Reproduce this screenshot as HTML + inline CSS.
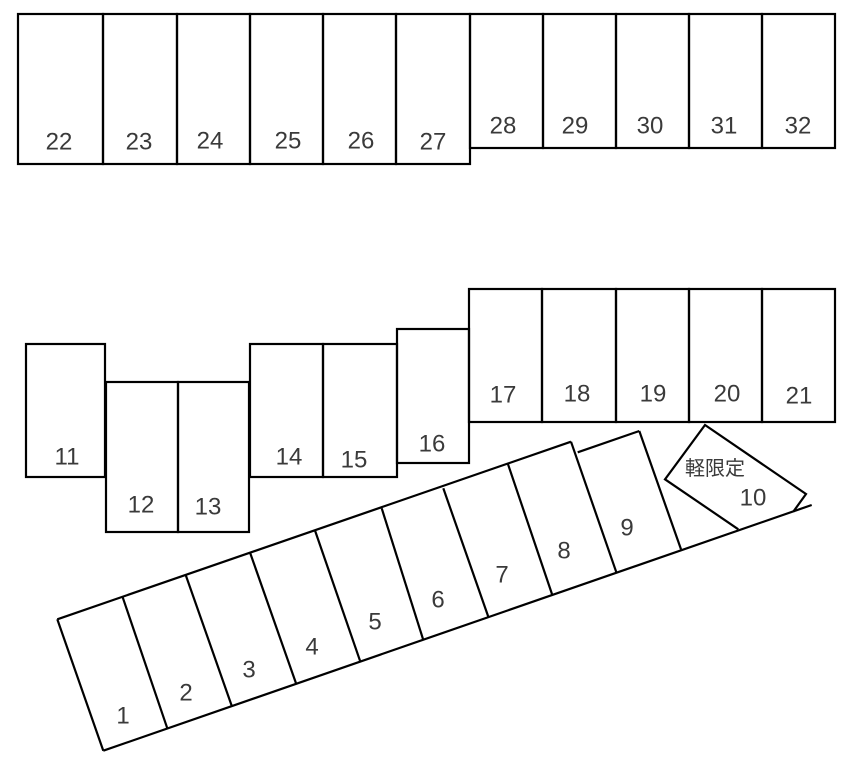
<!DOCTYPE html>
<html><head><meta charset="utf-8"><style>
html,body{margin:0;padding:0;background:#fff;}
svg{display:block}
text{font-family:"Liberation Sans","Noto Sans CJK JP",sans-serif;font-size:24px;fill:#3a3a3a;text-anchor:middle;dominant-baseline:central;}
</style></head><body>
<svg width="862" height="760" viewBox="0 0 862 760">
<g fill="none" stroke="#000" stroke-width="2.2">
<rect x="18" y="14" width="85" height="150"/>
<rect x="103" y="14" width="74" height="150"/>
<rect x="177" y="14" width="73" height="150"/>
<rect x="250" y="14" width="73" height="150"/>
<rect x="323" y="14" width="73" height="150"/>
<rect x="396" y="14" width="74" height="150"/>
<rect x="470" y="14" width="73" height="134"/>
<rect x="543" y="14" width="73" height="134"/>
<rect x="616" y="14" width="73" height="134"/>
<rect x="689" y="14" width="73" height="134"/>
<rect x="762" y="14" width="73" height="134"/>
<rect x="26" y="344" width="79" height="133"/>
<rect x="106" y="382" width="72" height="150"/>
<rect x="178" y="382" width="71" height="150"/>
<rect x="250" y="344" width="73" height="133"/>
<rect x="323" y="344" width="74" height="133"/>
<rect x="397" y="329" width="72" height="134"/>
<rect x="469" y="289" width="73" height="133"/>
<rect x="542" y="289" width="74" height="133"/>
<rect x="616" y="289" width="73" height="133"/>
<rect x="689" y="289" width="73" height="133"/>
<rect x="762" y="289" width="73" height="133"/>
<line x1="57.3" y1="619.3" x2="571" y2="441.7"/>
<line x1="577.7" y1="452.3" x2="639.3" y2="431"/>
<line x1="103.3" y1="750.7" x2="811.7" y2="505"/>
<line x1="57.3" y1="619.3" x2="103.3" y2="750.7"/>
<line x1="122.7" y1="597.3" x2="167.3" y2="728.3"/>
<line x1="185.7" y1="575" x2="231.7" y2="705.7"/>
<line x1="250" y1="552.5" x2="296" y2="683.3"/>
<line x1="315" y1="530.5" x2="360" y2="660.7"/>
<line x1="381.7" y1="508.3" x2="423.3" y2="640"/>
<line x1="443.3" y1="488.3" x2="488.3" y2="616.7"/>
<line x1="507.7" y1="463.3" x2="552.3" y2="595"/>
<line x1="571" y1="441.7" x2="616.7" y2="573.3"/>
<line x1="639.3" y1="431" x2="681" y2="549.3"/>
<polyline points="738.3,529.3 665,479.3 705,425 806,494 793.3,511.7"/>
</g>
<text x="59" y="142">22</text><text x="139" y="142">23</text><text x="210" y="141">24</text>
<text x="288" y="141">25</text><text x="361" y="141">26</text><text x="433" y="142">27</text>
<text x="503" y="126">28</text><text x="575" y="126">29</text><text x="650" y="126">30</text>
<text x="724" y="126">31</text><text x="798" y="126">32</text>
<text x="67" y="457">11</text><text x="141" y="505">12</text><text x="208" y="507">13</text>
<text x="289" y="457">14</text><text x="354" y="460">15</text><text x="432" y="444">16</text>
<text x="503" y="395">17</text><text x="577" y="394">18</text><text x="653" y="394">19</text>
<text x="727" y="394">20</text><text x="799" y="396">21</text>
<text x="123" y="716">1</text><text x="186" y="693">2</text><text x="249" y="670">3</text>
<text x="312" y="647">4</text><text x="375" y="622">5</text><text x="438" y="600">6</text>
<text x="502" y="575">7</text><text x="564" y="551">8</text><text x="627" y="528">9</text>
<text x="753" y="498">10</text><text x="715" y="469" style="font-size:20px">軽限定</text>
</svg>
</body></html>
